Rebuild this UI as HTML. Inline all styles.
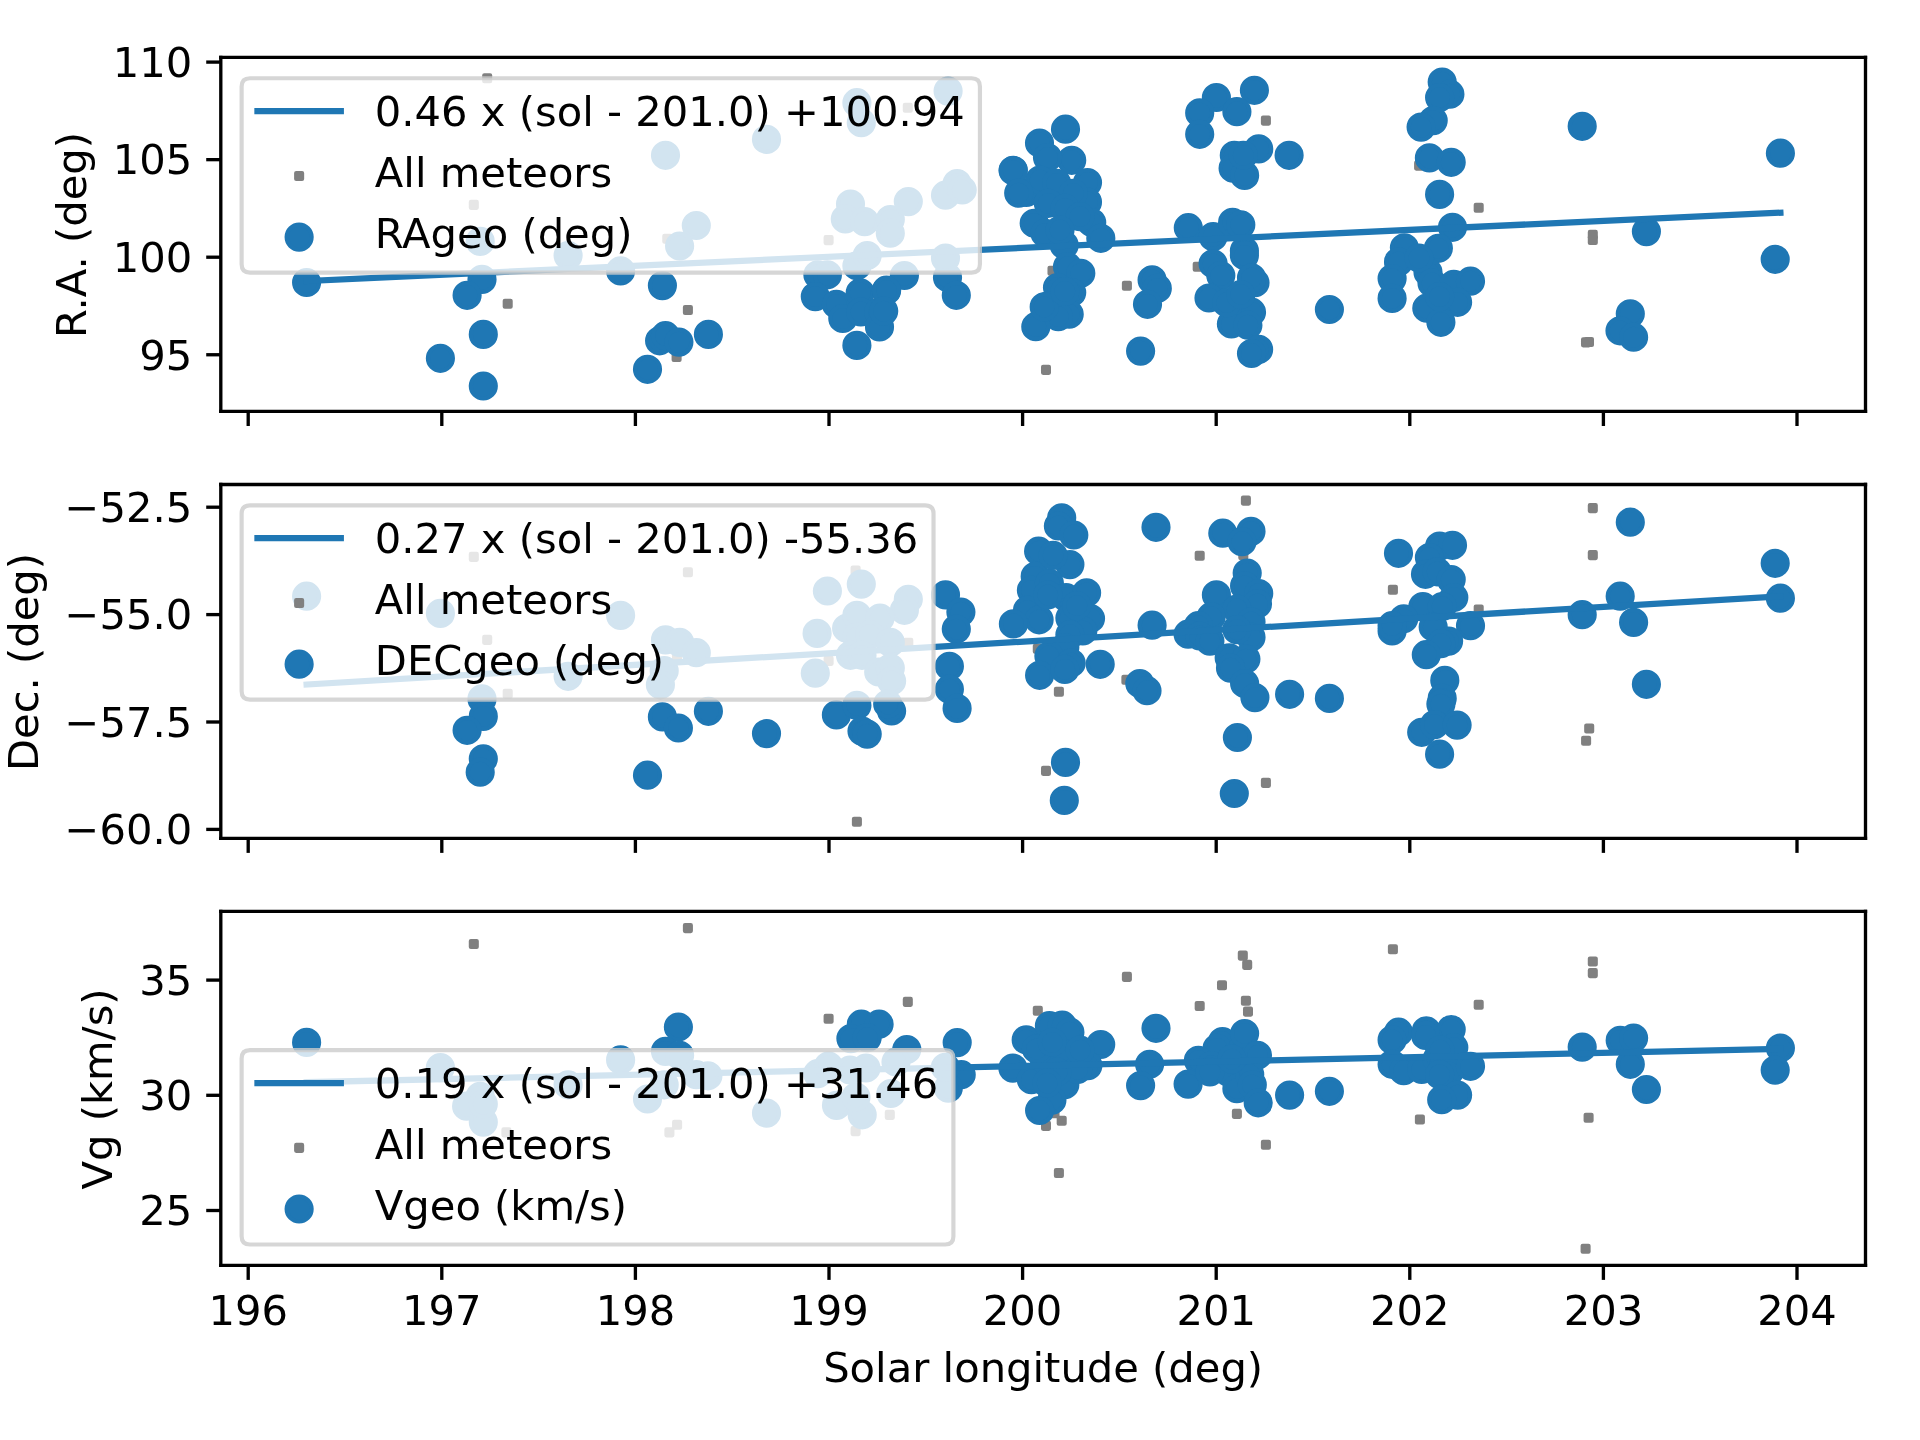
<!DOCTYPE html>
<html><head><meta charset="utf-8"><title>Meteor shower trends</title>
<style>html,body{margin:0;padding:0;background:#fff;width:1920px;height:1440px;overflow:hidden}svg{display:block;will-change:transform}
text{font-family:"DejaVu Sans","Liberation Sans",sans-serif}</style></head>
<body>
<svg width="1920" height="1440" viewBox="0 0 460.8 345.6" version="1.1">
 
 <defs>
  <style type="text/css">*{stroke-linejoin: round; stroke-linecap: butt}</style>
 </defs>
 <g id="figure_1">
  <g id="patch_1">
   <path d="M 0 345.6 
L 460.8 345.6 
L 460.8 0 
L 0 0 
z
" style="fill: #ffffff"/>
  </g>
  <g id="axes_1">
   <g id="patch_2">
    <path d="M 52.992 98.736 
L 447.72 98.736 
L 447.72 13.776 
L 52.992 13.776 
z
" style="fill: #ffffff"/>
   </g>
   <g id="PathCollection_1">
    <defs>
     <path id="m75fa3bee47" d="M -0.707107 0.707107 
L 0.707107 0.707107 
L 0.707107 -0.707107 
L -0.707107 -0.707107 
z
" style="stroke: #808080"/>
    </defs>
    <g clip-path="url(#pdd602e3e44)">
     <use href="#m75fa3bee47" x="116.928" y="18.792" style="fill: #808080; stroke: #808080"/>
     <use href="#m75fa3bee47" x="113.712" y="49.176" style="fill: #808080; stroke: #808080"/>
     <use href="#m75fa3bee47" x="121.848" y="72.912" style="fill: #808080; stroke: #808080"/>
     <use href="#m75fa3bee47" x="165.096" y="74.4" style="fill: #808080; stroke: #808080"/>
     <use href="#m75fa3bee47" x="162.384" y="85.68" style="fill: #808080; stroke: #808080"/>
     <use href="#m75fa3bee47" x="198.864" y="57.624" style="fill: #808080; stroke: #808080"/>
     <use href="#m75fa3bee47" x="217.872" y="25.872" style="fill: #808080; stroke: #808080"/>
     <use href="#m75fa3bee47" x="160.152" y="57.312" style="fill: #808080; stroke: #808080"/>
     <use href="#m75fa3bee47" x="252.6" y="64.992" style="fill: #808080; stroke: #808080"/>
     <use href="#m75fa3bee47" x="270.456" y="68.592" style="fill: #808080; stroke: #808080"/>
     <use href="#m75fa3bee47" x="251.04" y="88.776" style="fill: #808080; stroke: #808080"/>
     <use href="#m75fa3bee47" x="303.816" y="28.944" style="fill: #808080; stroke: #808080"/>
     <use href="#m75fa3bee47" x="287.448" y="64.008" style="fill: #808080; stroke: #808080"/>
     <use href="#m75fa3bee47" x="340.584" y="39.744" style="fill: #808080; stroke: #808080"/>
     <use href="#m75fa3bee47" x="354.888" y="49.848" style="fill: #808080; stroke: #808080"/>
     <use href="#m75fa3bee47" x="382.272" y="56.376" style="fill: #808080; stroke: #808080"/>
     <use href="#m75fa3bee47" x="382.272" y="57.6" style="fill: #808080; stroke: #808080"/>
     <use href="#m75fa3bee47" x="380.64" y="82.176" style="fill: #808080; stroke: #808080"/>
     <use href="#m75fa3bee47" x="381.36" y="82.08" style="fill: #808080; stroke: #808080"/>
    </g>
   </g>
   <g id="PathCollection_2">
    <defs>
     <path id="mf14c53ed57" d="M 0 3 
C 0.795609 3 1.55874 2.683901 2.12132 2.12132 
C 2.683901 1.55874 3 0.795609 3 0 
C 3 -0.795609 2.683901 -1.55874 2.12132 -2.12132 
C 1.55874 -2.683901 0.795609 -3 0 -3 
C -0.795609 -3 -1.55874 -2.683901 -2.12132 -2.12132 
C -2.683901 -1.55874 -3 -0.795609 -3 0 
C -3 0.795609 -2.683901 1.55874 -2.12132 2.12132 
C -1.55874 2.683901 -0.795609 3 0 3 
z
" style="stroke: #1f77b4"/>
    </defs>
    <g clip-path="url(#pdd602e3e44)">
     <use href="#mf14c53ed57" x="73.584" y="67.8" style="fill: #1f77b4; stroke: #1f77b4"/>
     <use href="#mf14c53ed57" x="115.68" y="67.056" style="fill: #1f77b4; stroke: #1f77b4"/>
     <use href="#mf14c53ed57" x="112.104" y="70.872" style="fill: #1f77b4; stroke: #1f77b4"/>
     <use href="#mf14c53ed57" x="115.992" y="80.256" style="fill: #1f77b4; stroke: #1f77b4"/>
     <use href="#mf14c53ed57" x="105.696" y="85.992" style="fill: #1f77b4; stroke: #1f77b4"/>
     <use href="#mf14c53ed57" x="115.992" y="92.64" style="fill: #1f77b4; stroke: #1f77b4"/>
     <use href="#mf14c53ed57" x="115.248" y="57.936" style="fill: #1f77b4; stroke: #1f77b4"/>
     <use href="#mf14c53ed57" x="136.344" y="61.32" style="fill: #1f77b4; stroke: #1f77b4"/>
     <use href="#mf14c53ed57" x="148.944" y="65.016" style="fill: #1f77b4; stroke: #1f77b4"/>
     <use href="#mf14c53ed57" x="158.976" y="68.544" style="fill: #1f77b4; stroke: #1f77b4"/>
     <use href="#mf14c53ed57" x="158.304" y="81.792" style="fill: #1f77b4; stroke: #1f77b4"/>
     <use href="#mf14c53ed57" x="159.72" y="80.568" style="fill: #1f77b4; stroke: #1f77b4"/>
     <use href="#mf14c53ed57" x="162.936" y="82.104" style="fill: #1f77b4; stroke: #1f77b4"/>
     <use href="#mf14c53ed57" x="170.016" y="80.256" style="fill: #1f77b4; stroke: #1f77b4"/>
     <use href="#mf14c53ed57" x="155.4" y="88.632" style="fill: #1f77b4; stroke: #1f77b4"/>
     <use href="#mf14c53ed57" x="196.296" y="65.952" style="fill: #1f77b4; stroke: #1f77b4"/>
     <use href="#mf14c53ed57" x="198.576" y="65.952" style="fill: #1f77b4; stroke: #1f77b4"/>
     <use href="#mf14c53ed57" x="195.672" y="71.184" style="fill: #1f77b4; stroke: #1f77b4"/>
     <use href="#mf14c53ed57" x="200.736" y="73.032" style="fill: #1f77b4; stroke: #1f77b4"/>
     <use href="#mf14c53ed57" x="202.272" y="76.44" style="fill: #1f77b4; stroke: #1f77b4"/>
     <use href="#mf14c53ed57" x="206.448" y="70.272" style="fill: #1f77b4; stroke: #1f77b4"/>
     <use href="#mf14c53ed57" x="206.592" y="74.88" style="fill: #1f77b4; stroke: #1f77b4"/>
     <use href="#mf14c53ed57" x="212.736" y="69.648" style="fill: #1f77b4; stroke: #1f77b4"/>
     <use href="#mf14c53ed57" x="210.888" y="74.88" style="fill: #1f77b4; stroke: #1f77b4"/>
     <use href="#mf14c53ed57" x="211.08" y="78.456" style="fill: #1f77b4; stroke: #1f77b4"/>
     <use href="#mf14c53ed57" x="205.656" y="82.896" style="fill: #1f77b4; stroke: #1f77b4"/>
     <use href="#mf14c53ed57" x="217.056" y="66.12" style="fill: #1f77b4; stroke: #1f77b4"/>
     <use href="#mf14c53ed57" x="205.656" y="63.792" style="fill: #1f77b4; stroke: #1f77b4"/>
     <use href="#mf14c53ed57" x="227.4" y="66.576" style="fill: #1f77b4; stroke: #1f77b4"/>
     <use href="#mf14c53ed57" x="229.512" y="70.872" style="fill: #1f77b4; stroke: #1f77b4"/>
     <use href="#mf14c53ed57" x="212.784" y="69.72" style="fill: #1f77b4; stroke: #1f77b4"/>
     <use href="#mf14c53ed57" x="212.088" y="74.664" style="fill: #1f77b4; stroke: #1f77b4"/>
     <use href="#mf14c53ed57" x="159.72" y="37.272" style="fill: #1f77b4; stroke: #1f77b4"/>
     <use href="#mf14c53ed57" x="183.96" y="33.456" style="fill: #1f77b4; stroke: #1f77b4"/>
     <use href="#mf14c53ed57" x="167.112" y="54.12" style="fill: #1f77b4; stroke: #1f77b4"/>
     <use href="#mf14c53ed57" x="163.104" y="59.04" style="fill: #1f77b4; stroke: #1f77b4"/>
     <use href="#mf14c53ed57" x="205.656" y="24.648" style="fill: #1f77b4; stroke: #1f77b4"/>
     <use href="#mf14c53ed57" x="206.712" y="29.448" style="fill: #1f77b4; stroke: #1f77b4"/>
     <use href="#mf14c53ed57" x="227.544" y="21.864" style="fill: #1f77b4; stroke: #1f77b4"/>
     <use href="#mf14c53ed57" x="204.12" y="48.984" style="fill: #1f77b4; stroke: #1f77b4"/>
     <use href="#mf14c53ed57" x="202.872" y="52.56" style="fill: #1f77b4; stroke: #1f77b4"/>
     <use href="#mf14c53ed57" x="207.504" y="53.184" style="fill: #1f77b4; stroke: #1f77b4"/>
     <use href="#mf14c53ed57" x="213.672" y="52.704" style="fill: #1f77b4; stroke: #1f77b4"/>
     <use href="#mf14c53ed57" x="213.672" y="55.968" style="fill: #1f77b4; stroke: #1f77b4"/>
     <use href="#mf14c53ed57" x="217.992" y="48.384" style="fill: #1f77b4; stroke: #1f77b4"/>
     <use href="#mf14c53ed57" x="226.92" y="46.848" style="fill: #1f77b4; stroke: #1f77b4"/>
     <use href="#mf14c53ed57" x="229.704" y="44.064" style="fill: #1f77b4; stroke: #1f77b4"/>
     <use href="#mf14c53ed57" x="230.928" y="45.6" style="fill: #1f77b4; stroke: #1f77b4"/>
     <use href="#mf14c53ed57" x="208.128" y="61.32" style="fill: #1f77b4; stroke: #1f77b4"/>
     <use href="#mf14c53ed57" x="226.92" y="61.944" style="fill: #1f77b4; stroke: #1f77b4"/>
     <use href="#mf14c53ed57" x="255.72" y="31.008" style="fill: #1f77b4; stroke: #1f77b4"/>
     <use href="#mf14c53ed57" x="249.48" y="34.32" style="fill: #1f77b4; stroke: #1f77b4"/>
     <use href="#mf14c53ed57" x="243.192" y="40.872" style="fill: #1f77b4; stroke: #1f77b4"/>
     <use href="#mf14c53ed57" x="257.208" y="38.472" style="fill: #1f77b4; stroke: #1f77b4"/>
     <use href="#mf14c53ed57" x="251.4" y="37.8" style="fill: #1f77b4; stroke: #1f77b4"/>
     <use href="#mf14c53ed57" x="261" y="43.8" style="fill: #1f77b4; stroke: #1f77b4"/>
     <use href="#mf14c53ed57" x="246.312" y="46.2" style="fill: #1f77b4; stroke: #1f77b4"/>
     <use href="#mf14c53ed57" x="261" y="48.48" style="fill: #1f77b4; stroke: #1f77b4"/>
     <use href="#mf14c53ed57" x="248.208" y="53.592" style="fill: #1f77b4; stroke: #1f77b4"/>
     <use href="#mf14c53ed57" x="262.008" y="53.4" style="fill: #1f77b4; stroke: #1f77b4"/>
     <use href="#mf14c53ed57" x="264.192" y="57.192" style="fill: #1f77b4; stroke: #1f77b4"/>
     <use href="#mf14c53ed57" x="250.8" y="55.992" style="fill: #1f77b4; stroke: #1f77b4"/>
     <use href="#mf14c53ed57" x="255.408" y="58.8" style="fill: #1f77b4; stroke: #1f77b4"/>
     <use href="#mf14c53ed57" x="256.2" y="64.008" style="fill: #1f77b4; stroke: #1f77b4"/>
     <use href="#mf14c53ed57" x="259.392" y="65.592" style="fill: #1f77b4; stroke: #1f77b4"/>
     <use href="#mf14c53ed57" x="253.8" y="69" style="fill: #1f77b4; stroke: #1f77b4"/>
     <use href="#mf14c53ed57" x="257.208" y="70.2" style="fill: #1f77b4; stroke: #1f77b4"/>
     <use href="#mf14c53ed57" x="251.592" y="73.392" style="fill: #1f77b4; stroke: #1f77b4"/>
     <use href="#mf14c53ed57" x="256.608" y="75.408" style="fill: #1f77b4; stroke: #1f77b4"/>
     <use href="#mf14c53ed57" x="253.992" y="76.008" style="fill: #1f77b4; stroke: #1f77b4"/>
     <use href="#mf14c53ed57" x="248.592" y="78.408" style="fill: #1f77b4; stroke: #1f77b4"/>
     <use href="#mf14c53ed57" x="249.6" y="43.2" style="fill: #1f77b4; stroke: #1f77b4"/>
     <use href="#mf14c53ed57" x="253.608" y="43.992" style="fill: #1f77b4; stroke: #1f77b4"/>
     <use href="#mf14c53ed57" x="257.592" y="46.392" style="fill: #1f77b4; stroke: #1f77b4"/>
     <use href="#mf14c53ed57" x="251.592" y="48.792" style="fill: #1f77b4; stroke: #1f77b4"/>
     <use href="#mf14c53ed57" x="255.6" y="49.992" style="fill: #1f77b4; stroke: #1f77b4"/>
     <use href="#mf14c53ed57" x="259.2" y="52.008" style="fill: #1f77b4; stroke: #1f77b4"/>
     <use href="#mf14c53ed57" x="254.4" y="55.2" style="fill: #1f77b4; stroke: #1f77b4"/>
     <use href="#mf14c53ed57" x="243.144" y="40.944" style="fill: #1f77b4; stroke: #1f77b4"/>
     <use href="#mf14c53ed57" x="244.488" y="46.344" style="fill: #1f77b4; stroke: #1f77b4"/>
     <use href="#mf14c53ed57" x="250.608" y="73.656" style="fill: #1f77b4; stroke: #1f77b4"/>
     <use href="#mf14c53ed57" x="255.552" y="69.96" style="fill: #1f77b4; stroke: #1f77b4"/>
     <use href="#mf14c53ed57" x="276.504" y="67.176" style="fill: #1f77b4; stroke: #1f77b4"/>
     <use href="#mf14c53ed57" x="277.752" y="69.216" style="fill: #1f77b4; stroke: #1f77b4"/>
     <use href="#mf14c53ed57" x="275.4" y="73.032" style="fill: #1f77b4; stroke: #1f77b4"/>
     <use href="#mf14c53ed57" x="273.744" y="84.264" style="fill: #1f77b4; stroke: #1f77b4"/>
     <use href="#mf14c53ed57" x="291.936" y="23.4" style="fill: #1f77b4; stroke: #1f77b4"/>
     <use href="#mf14c53ed57" x="287.928" y="27.096" style="fill: #1f77b4; stroke: #1f77b4"/>
     <use href="#mf14c53ed57" x="301.056" y="21.672" style="fill: #1f77b4; stroke: #1f77b4"/>
     <use href="#mf14c53ed57" x="296.856" y="26.808" style="fill: #1f77b4; stroke: #1f77b4"/>
     <use href="#mf14c53ed57" x="287.928" y="32.232" style="fill: #1f77b4; stroke: #1f77b4"/>
     <use href="#mf14c53ed57" x="296.232" y="37.272" style="fill: #1f77b4; stroke: #1f77b4"/>
     <use href="#mf14c53ed57" x="302.088" y="35.736" style="fill: #1f77b4; stroke: #1f77b4"/>
     <use href="#mf14c53ed57" x="309.384" y="37.272" style="fill: #1f77b4; stroke: #1f77b4"/>
     <use href="#mf14c53ed57" x="295.944" y="40.368" style="fill: #1f77b4; stroke: #1f77b4"/>
     <use href="#mf14c53ed57" x="298.704" y="42.096" style="fill: #1f77b4; stroke: #1f77b4"/>
     <use href="#mf14c53ed57" x="298.392" y="37.272" style="fill: #1f77b4; stroke: #1f77b4"/>
     <use href="#mf14c53ed57" x="285.192" y="54.648" style="fill: #1f77b4; stroke: #1f77b4"/>
     <use href="#mf14c53ed57" x="291.144" y="56.784" style="fill: #1f77b4; stroke: #1f77b4"/>
     <use href="#mf14c53ed57" x="295.824" y="53.376" style="fill: #1f77b4; stroke: #1f77b4"/>
     <use href="#mf14c53ed57" x="297.792" y="53.952" style="fill: #1f77b4; stroke: #1f77b4"/>
     <use href="#mf14c53ed57" x="298.656" y="60.192" style="fill: #1f77b4; stroke: #1f77b4"/>
     <use href="#mf14c53ed57" x="298.656" y="61.32" style="fill: #1f77b4; stroke: #1f77b4"/>
     <use href="#mf14c53ed57" x="291.144" y="63.312" style="fill: #1f77b4; stroke: #1f77b4"/>
     <use href="#mf14c53ed57" x="292.992" y="66.144" style="fill: #1f77b4; stroke: #1f77b4"/>
     <use href="#mf14c53ed57" x="301.2" y="67.848" style="fill: #1f77b4; stroke: #1f77b4"/>
     <use href="#mf14c53ed57" x="300.36" y="66.696" style="fill: #1f77b4; stroke: #1f77b4"/>
     <use href="#mf14c53ed57" x="290.16" y="71.52" style="fill: #1f77b4; stroke: #1f77b4"/>
     <use href="#mf14c53ed57" x="295.536" y="77.76" style="fill: #1f77b4; stroke: #1f77b4"/>
     <use href="#mf14c53ed57" x="300.36" y="74.928" style="fill: #1f77b4; stroke: #1f77b4"/>
     <use href="#mf14c53ed57" x="299.496" y="78.048" style="fill: #1f77b4; stroke: #1f77b4"/>
     <use href="#mf14c53ed57" x="302.064" y="83.856" style="fill: #1f77b4; stroke: #1f77b4"/>
     <use href="#mf14c53ed57" x="300.36" y="84.84" style="fill: #1f77b4; stroke: #1f77b4"/>
     <use href="#mf14c53ed57" x="294.408" y="72.648" style="fill: #1f77b4; stroke: #1f77b4"/>
     <use href="#mf14c53ed57" x="297.792" y="70.68" style="fill: #1f77b4; stroke: #1f77b4"/>
     <use href="#mf14c53ed57" x="319.056" y="74.28" style="fill: #1f77b4; stroke: #1f77b4"/>
     <use href="#mf14c53ed57" x="346.128" y="19.704" style="fill: #1f77b4; stroke: #1f77b4"/>
     <use href="#mf14c53ed57" x="347.976" y="22.608" style="fill: #1f77b4; stroke: #1f77b4"/>
     <use href="#mf14c53ed57" x="345.504" y="23.4" style="fill: #1f77b4; stroke: #1f77b4"/>
     <use href="#mf14c53ed57" x="343.968" y="28.944" style="fill: #1f77b4; stroke: #1f77b4"/>
     <use href="#mf14c53ed57" x="341.064" y="30.504" style="fill: #1f77b4; stroke: #1f77b4"/>
     <use href="#mf14c53ed57" x="343.056" y="37.896" style="fill: #1f77b4; stroke: #1f77b4"/>
     <use href="#mf14c53ed57" x="348.288" y="38.952" style="fill: #1f77b4; stroke: #1f77b4"/>
     <use href="#mf14c53ed57" x="345.504" y="46.656" style="fill: #1f77b4; stroke: #1f77b4"/>
     <use href="#mf14c53ed57" x="348.6" y="54.552" style="fill: #1f77b4; stroke: #1f77b4"/>
     <use href="#mf14c53ed57" x="337.056" y="59.472" style="fill: #1f77b4; stroke: #1f77b4"/>
     <use href="#mf14c53ed57" x="345.216" y="59.592" style="fill: #1f77b4; stroke: #1f77b4"/>
     <use href="#mf14c53ed57" x="335.64" y="62.856" style="fill: #1f77b4; stroke: #1f77b4"/>
     <use href="#mf14c53ed57" x="334.104" y="66.864" style="fill: #1f77b4; stroke: #1f77b4"/>
     <use href="#mf14c53ed57" x="342.72" y="65.328" style="fill: #1f77b4; stroke: #1f77b4"/>
     <use href="#mf14c53ed57" x="340.56" y="61.92" style="fill: #1f77b4; stroke: #1f77b4"/>
     <use href="#mf14c53ed57" x="343.68" y="67.92" style="fill: #1f77b4; stroke: #1f77b4"/>
     <use href="#mf14c53ed57" x="334.104" y="71.616" style="fill: #1f77b4; stroke: #1f77b4"/>
     <use href="#mf14c53ed57" x="348.912" y="68.232" style="fill: #1f77b4; stroke: #1f77b4"/>
     <use href="#mf14c53ed57" x="352.92" y="67.488" style="fill: #1f77b4; stroke: #1f77b4"/>
     <use href="#mf14c53ed57" x="342.432" y="73.968" style="fill: #1f77b4; stroke: #1f77b4"/>
     <use href="#mf14c53ed57" x="349.824" y="72.552" style="fill: #1f77b4; stroke: #1f77b4"/>
     <use href="#mf14c53ed57" x="345.816" y="77.352" style="fill: #1f77b4; stroke: #1f77b4"/>
     <use href="#mf14c53ed57" x="345.504" y="71.184" style="fill: #1f77b4; stroke: #1f77b4"/>
     <use href="#mf14c53ed57" x="379.728" y="30.312" style="fill: #1f77b4; stroke: #1f77b4"/>
     <use href="#mf14c53ed57" x="395.136" y="55.584" style="fill: #1f77b4; stroke: #1f77b4"/>
     <use href="#mf14c53ed57" x="391.272" y="75.312" style="fill: #1f77b4; stroke: #1f77b4"/>
     <use href="#mf14c53ed57" x="388.8" y="79.392" style="fill: #1f77b4; stroke: #1f77b4"/>
     <use href="#mf14c53ed57" x="392.064" y="80.928" style="fill: #1f77b4; stroke: #1f77b4"/>
     <use href="#mf14c53ed57" x="427.296" y="36.768" style="fill: #1f77b4; stroke: #1f77b4"/>
     <use href="#mf14c53ed57" x="426.048" y="62.232" style="fill: #1f77b4; stroke: #1f77b4"/>
    </g>
   </g>
   <g id="matplotlib.axis_1">
    <g id="xtick_1">
     <g id="line2d_1">
      <defs>
       <path id="m1504cfccaf" d="M 0 0 
L 0 3.5 
" style="stroke: #000000; stroke-width: 0.8"/>
      </defs>
      <g>
       <use href="#m1504cfccaf" x="59.568" y="98.736" style="stroke: #000000; stroke-width: 0.8"/>
      </g>
     </g>
    </g>
    <g id="xtick_2">
     <g id="line2d_2">
      <g>
       <use href="#m1504cfccaf" x="106.032" y="98.736" style="stroke: #000000; stroke-width: 0.8"/>
      </g>
     </g>
    </g>
    <g id="xtick_3">
     <g id="line2d_3">
      <g>
       <use href="#m1504cfccaf" x="152.496" y="98.736" style="stroke: #000000; stroke-width: 0.8"/>
      </g>
     </g>
    </g>
    <g id="xtick_4">
     <g id="line2d_4">
      <g>
       <use href="#m1504cfccaf" x="198.96" y="98.736" style="stroke: #000000; stroke-width: 0.8"/>
      </g>
     </g>
    </g>
    <g id="xtick_5">
     <g id="line2d_5">
      <g>
       <use href="#m1504cfccaf" x="245.424" y="98.736" style="stroke: #000000; stroke-width: 0.8"/>
      </g>
     </g>
    </g>
    <g id="xtick_6">
     <g id="line2d_6">
      <g>
       <use href="#m1504cfccaf" x="291.888" y="98.736" style="stroke: #000000; stroke-width: 0.8"/>
      </g>
     </g>
    </g>
    <g id="xtick_7">
     <g id="line2d_7">
      <g>
       <use href="#m1504cfccaf" x="338.352" y="98.736" style="stroke: #000000; stroke-width: 0.8"/>
      </g>
     </g>
    </g>
    <g id="xtick_8">
     <g id="line2d_8">
      <g>
       <use href="#m1504cfccaf" x="384.816" y="98.736" style="stroke: #000000; stroke-width: 0.8"/>
      </g>
     </g>
    </g>
    <g id="xtick_9">
     <g id="line2d_9">
      <g>
       <use href="#m1504cfccaf" x="431.28" y="98.736" style="stroke: #000000; stroke-width: 0.8"/>
      </g>
     </g>
    </g>
   </g>
   <g id="matplotlib.axis_2">
    <g id="ytick_1">
     <g id="line2d_10">
      <defs>
       <path id="m5d545ce8f8" d="M 0 0 
L -3.5 0 
" style="stroke: #000000; stroke-width: 0.8"/>
      </defs>
      <g>
       <use href="#m5d545ce8f8" x="52.992" y="85.14" style="stroke: #000000; stroke-width: 0.8"/>
      </g>
     </g>
     <g id="text_1">
      <text style="font-size: 10px; font-family: 'DejaVu Sans', 'Liberation Sans', sans-serif; text-anchor: end" x="46.1360" y="88.6992" transform="rotate(-0 46.1360 88.6992)">95</text>
     </g>
    </g>
    <g id="ytick_2">
     <g id="line2d_11">
      <g>
       <use href="#m5d545ce8f8" x="52.992" y="61.728" style="stroke: #000000; stroke-width: 0.8"/>
      </g>
     </g>
     <g id="text_2">
      <text style="font-size: 10px; font-family: 'DejaVu Sans', 'Liberation Sans', sans-serif; text-anchor: end" x="46.1360" y="65.2872" transform="rotate(-0 46.1360 65.2872)">100</text>
     </g>
    </g>
    <g id="ytick_3">
     <g id="line2d_12">
      <g>
       <use href="#m5d545ce8f8" x="52.992" y="38.316" style="stroke: #000000; stroke-width: 0.8"/>
      </g>
     </g>
     <g id="text_3">
      <text style="font-size: 10px; font-family: 'DejaVu Sans', 'Liberation Sans', sans-serif; text-anchor: end" x="46.1360" y="41.8752" transform="rotate(-0 46.1360 41.8752)">105</text>
     </g>
    </g>
    <g id="ytick_4">
     <g id="line2d_13">
      <g>
       <use href="#m5d545ce8f8" x="52.992" y="14.904" style="stroke: #000000; stroke-width: 0.8"/>
      </g>
     </g>
     <g id="text_4">
      <text style="font-size: 10px; font-family: 'DejaVu Sans', 'Liberation Sans', sans-serif; text-anchor: end" x="46.1360" y="18.4632" transform="rotate(-0 46.1360 18.4632)">110</text>
     </g>
    </g>
    <g id="text_5">
     <text style="font-size: 10px; font-family: 'DejaVu Sans', 'Liberation Sans', sans-serif; text-anchor: middle" x="20.5848" y="56.4000" transform="rotate(-90 20.5848 56.4000)">R.A. (deg)</text>
    </g>
   </g>
   <g id="line2d_14">
    <path d="M 73.584 67.446333 
L 427.296 51.049516 
" clip-path="url(#pdd602e3e44)" style="fill: none; stroke: #1f77b4; stroke-width: 1.5; stroke-linecap: square"/>
   </g>
   <g id="patch_3">
    <path d="M 52.992 98.736 
L 52.992 13.776 
" style="fill: none; stroke: #000000; stroke-width: 0.8; stroke-linejoin: miter; stroke-linecap: square"/>
   </g>
   <g id="patch_4">
    <path d="M 447.72 98.736 
L 447.72 13.776 
" style="fill: none; stroke: #000000; stroke-width: 0.8; stroke-linejoin: miter; stroke-linecap: square"/>
   </g>
   <g id="patch_5">
    <path d="M 52.992 98.736 
L 447.72 98.736 
" style="fill: none; stroke: #000000; stroke-width: 0.8; stroke-linejoin: miter; stroke-linecap: square"/>
   </g>
   <g id="patch_6">
    <path d="M 52.992 13.776 
L 447.72 13.776 
" style="fill: none; stroke: #000000; stroke-width: 0.8; stroke-linejoin: miter; stroke-linecap: square"/>
   </g>
   <g id="legend_1">
    <g id="patch_7">
     <path d="M 59.992 65.410375 
L 233.182625 65.410375 
Q 235.182625 65.410375 235.182625 63.410375 
L 235.182625 20.776 
Q 235.182625 18.776 233.182625 18.776 
L 59.992 18.776 
Q 57.992 18.776 57.992 20.776 
L 57.992 63.410375 
Q 57.992 65.410375 59.992 65.410375 
z
" style="fill: #ffffff; fill-opacity: 0.8; stroke: #cccccc; stroke-opacity: 0.8; stroke-linejoin: miter"/>
    </g>
    <g id="line2d_15">
     <path d="M 61.792 26.674438 
L 71.792 26.674438 
L 81.792 26.674438 
" style="fill: none; stroke: #1f77b4; stroke-width: 1.5; stroke-linecap: square"/>
    </g>
    <g id="text_6">
     <text style="font-size: 10px; font-family: 'DejaVu Sans', 'Liberation Sans', sans-serif; text-anchor: start" x="89.9600" y="30.1744" transform="rotate(-0 89.9600 30.1744)">0.46 x (sol - 201.0) +100.94</text>
    </g>
    <g id="PathCollection_3">
     <g>
      <use href="#m75fa3bee47" x="71.792" y="42.227563" style="fill: #808080; stroke: #808080"/>
     </g>
    </g>
    <g id="text_7">
     <text style="font-size: 10px; font-family: 'DejaVu Sans', 'Liberation Sans', sans-serif; text-anchor: start" x="89.9600" y="44.8526" transform="rotate(-0 89.9600 44.8526)">All meteors</text>
    </g>
    <g id="PathCollection_4">
     <g>
      <use href="#mf14c53ed57" x="71.792" y="56.905687" style="fill: #1f77b4; stroke: #1f77b4"/>
     </g>
    </g>
    <g id="text_8">
     <text style="font-size: 10px; font-family: 'DejaVu Sans', 'Liberation Sans', sans-serif; text-anchor: start" x="89.9600" y="59.5307" transform="rotate(-0 89.9600 59.5307)">RAgeo (deg)</text>
    </g>
   </g>
  </g>
  <g id="axes_2">
   <g id="patch_8">
    <path d="M 52.992 201.192 
L 447.72 201.192 
L 447.72 116.28 
L 52.992 116.28 
z
" style="fill: #ffffff"/>
   </g>
   <g id="PathCollection_5">
    <g clip-path="url(#p314854c479)">
     <use href="#m75fa3bee47" x="113.712" y="133.656" style="fill: #808080; stroke: #808080"/>
     <use href="#m75fa3bee47" x="116.928" y="153.576" style="fill: #808080; stroke: #808080"/>
     <use href="#m75fa3bee47" x="121.848" y="166.512" style="fill: #808080; stroke: #808080"/>
     <use href="#m75fa3bee47" x="165.096" y="137.352" style="fill: #808080; stroke: #808080"/>
     <use href="#m75fa3bee47" x="205.344" y="136.92" style="fill: #808080; stroke: #808080"/>
     <use href="#m75fa3bee47" x="198.864" y="158.616" style="fill: #808080; stroke: #808080"/>
     <use href="#m75fa3bee47" x="217.992" y="154.296" style="fill: #808080; stroke: #808080"/>
     <use href="#m75fa3bee47" x="205.656" y="197.208" style="fill: #808080; stroke: #808080"/>
     <use href="#m75fa3bee47" x="299.016" y="120.144" style="fill: #808080; stroke: #808080"/>
     <use href="#m75fa3bee47" x="287.928" y="133.392" style="fill: #808080; stroke: #808080"/>
     <use href="#m75fa3bee47" x="298.392" y="133.224" style="fill: #808080; stroke: #808080"/>
     <use href="#m75fa3bee47" x="249.072" y="155.712" style="fill: #808080; stroke: #808080"/>
     <use href="#m75fa3bee47" x="254.136" y="166.008" style="fill: #808080; stroke: #808080"/>
     <use href="#m75fa3bee47" x="270.336" y="163.128" style="fill: #808080; stroke: #808080"/>
     <use href="#m75fa3bee47" x="251.04" y="185.016" style="fill: #808080; stroke: #808080"/>
     <use href="#m75fa3bee47" x="303.816" y="187.896" style="fill: #808080; stroke: #808080"/>
     <use href="#m75fa3bee47" x="334.296" y="141.552" style="fill: #808080; stroke: #808080"/>
     <use href="#m75fa3bee47" x="354.888" y="146.28" style="fill: #808080; stroke: #808080"/>
     <use href="#m75fa3bee47" x="382.272" y="121.944" style="fill: #808080; stroke: #808080"/>
     <use href="#m75fa3bee47" x="382.272" y="133.224" style="fill: #808080; stroke: #808080"/>
     <use href="#m75fa3bee47" x="381.408" y="174.84" style="fill: #808080; stroke: #808080"/>
     <use href="#m75fa3bee47" x="380.664" y="177.792" style="fill: #808080; stroke: #808080"/>
     <use href="#m75fa3bee47" x="162.48" y="157.92" style="fill: #808080; stroke: #808080"/>
    </g>
   </g>
   <g id="PathCollection_6">
    <g clip-path="url(#p314854c479)">
     <use href="#mf14c53ed57" x="73.584" y="143.088" style="fill: #1f77b4; stroke: #1f77b4"/>
     <use href="#mf14c53ed57" x="105.696" y="147.216" style="fill: #1f77b4; stroke: #1f77b4"/>
     <use href="#mf14c53ed57" x="136.344" y="162.312" style="fill: #1f77b4; stroke: #1f77b4"/>
     <use href="#mf14c53ed57" x="115.68" y="167.736" style="fill: #1f77b4; stroke: #1f77b4"/>
     <use href="#mf14c53ed57" x="115.992" y="171.936" style="fill: #1f77b4; stroke: #1f77b4"/>
     <use href="#mf14c53ed57" x="112.104" y="175.272" style="fill: #1f77b4; stroke: #1f77b4"/>
     <use href="#mf14c53ed57" x="115.992" y="182.112" style="fill: #1f77b4; stroke: #1f77b4"/>
     <use href="#mf14c53ed57" x="115.248" y="185.328" style="fill: #1f77b4; stroke: #1f77b4"/>
     <use href="#mf14c53ed57" x="148.944" y="147.696" style="fill: #1f77b4; stroke: #1f77b4"/>
     <use href="#mf14c53ed57" x="159.72" y="153.576" style="fill: #1f77b4; stroke: #1f77b4"/>
     <use href="#mf14c53ed57" x="163.104" y="154.176" style="fill: #1f77b4; stroke: #1f77b4"/>
     <use href="#mf14c53ed57" x="167.112" y="156.648" style="fill: #1f77b4; stroke: #1f77b4"/>
     <use href="#mf14c53ed57" x="159.408" y="160.968" style="fill: #1f77b4; stroke: #1f77b4"/>
     <use href="#mf14c53ed57" x="158.496" y="164.352" style="fill: #1f77b4; stroke: #1f77b4"/>
     <use href="#mf14c53ed57" x="198.576" y="141.84" style="fill: #1f77b4; stroke: #1f77b4"/>
     <use href="#mf14c53ed57" x="206.712" y="140.184" style="fill: #1f77b4; stroke: #1f77b4"/>
     <use href="#mf14c53ed57" x="217.992" y="143.832" style="fill: #1f77b4; stroke: #1f77b4"/>
     <use href="#mf14c53ed57" x="217.056" y="146.472" style="fill: #1f77b4; stroke: #1f77b4"/>
     <use href="#mf14c53ed57" x="196.104" y="152.016" style="fill: #1f77b4; stroke: #1f77b4"/>
     <use href="#mf14c53ed57" x="203.184" y="150.792" style="fill: #1f77b4; stroke: #1f77b4"/>
     <use href="#mf14c53ed57" x="205.656" y="147.696" style="fill: #1f77b4; stroke: #1f77b4"/>
     <use href="#mf14c53ed57" x="211.2" y="148.32" style="fill: #1f77b4; stroke: #1f77b4"/>
     <use href="#mf14c53ed57" x="205.656" y="152.952" style="fill: #1f77b4; stroke: #1f77b4"/>
     <use href="#mf14c53ed57" x="208.728" y="152.328" style="fill: #1f77b4; stroke: #1f77b4"/>
     <use href="#mf14c53ed57" x="213.672" y="154.176" style="fill: #1f77b4; stroke: #1f77b4"/>
     <use href="#mf14c53ed57" x="204.12" y="157.272" style="fill: #1f77b4; stroke: #1f77b4"/>
     <use href="#mf14c53ed57" x="206.88" y="157.272" style="fill: #1f77b4; stroke: #1f77b4"/>
     <use href="#mf14c53ed57" x="195.672" y="161.568" style="fill: #1f77b4; stroke: #1f77b4"/>
     <use href="#mf14c53ed57" x="210.888" y="161.28" style="fill: #1f77b4; stroke: #1f77b4"/>
     <use href="#mf14c53ed57" x="213.672" y="160.344" style="fill: #1f77b4; stroke: #1f77b4"/>
     <use href="#mf14c53ed57" x="213.984" y="163.44" style="fill: #1f77b4; stroke: #1f77b4"/>
     <use href="#mf14c53ed57" x="226.92" y="142.776" style="fill: #1f77b4; stroke: #1f77b4"/>
     <use href="#mf14c53ed57" x="230.616" y="146.904" style="fill: #1f77b4; stroke: #1f77b4"/>
     <use href="#mf14c53ed57" x="229.512" y="150.984" style="fill: #1f77b4; stroke: #1f77b4"/>
     <use href="#mf14c53ed57" x="227.856" y="159.912" style="fill: #1f77b4; stroke: #1f77b4"/>
     <use href="#mf14c53ed57" x="227.856" y="165.408" style="fill: #1f77b4; stroke: #1f77b4"/>
     <use href="#mf14c53ed57" x="229.704" y="170.016" style="fill: #1f77b4; stroke: #1f77b4"/>
     <use href="#mf14c53ed57" x="158.976" y="172.056" style="fill: #1f77b4; stroke: #1f77b4"/>
     <use href="#mf14c53ed57" x="162.816" y="174.72" style="fill: #1f77b4; stroke: #1f77b4"/>
     <use href="#mf14c53ed57" x="170.016" y="170.712" style="fill: #1f77b4; stroke: #1f77b4"/>
     <use href="#mf14c53ed57" x="183.96" y="176.064" style="fill: #1f77b4; stroke: #1f77b4"/>
     <use href="#mf14c53ed57" x="155.4" y="186.048" style="fill: #1f77b4; stroke: #1f77b4"/>
     <use href="#mf14c53ed57" x="200.736" y="171.576" style="fill: #1f77b4; stroke: #1f77b4"/>
     <use href="#mf14c53ed57" x="205.656" y="169.296" style="fill: #1f77b4; stroke: #1f77b4"/>
     <use href="#mf14c53ed57" x="206.88" y="175.464" style="fill: #1f77b4; stroke: #1f77b4"/>
     <use href="#mf14c53ed57" x="208.128" y="176.184" style="fill: #1f77b4; stroke: #1f77b4"/>
     <use href="#mf14c53ed57" x="213.984" y="170.64" style="fill: #1f77b4; stroke: #1f77b4"/>
     <use href="#mf14c53ed57" x="213.048" y="168.96" style="fill: #1f77b4; stroke: #1f77b4"/>
     <use href="#mf14c53ed57" x="254.808" y="124.272" style="fill: #1f77b4; stroke: #1f77b4"/>
     <use href="#mf14c53ed57" x="254.016" y="126.24" style="fill: #1f77b4; stroke: #1f77b4"/>
     <use href="#mf14c53ed57" x="257.712" y="128.4" style="fill: #1f77b4; stroke: #1f77b4"/>
     <use href="#mf14c53ed57" x="249.264" y="132.288" style="fill: #1f77b4; stroke: #1f77b4"/>
     <use href="#mf14c53ed57" x="256.776" y="135.504" style="fill: #1f77b4; stroke: #1f77b4"/>
     <use href="#mf14c53ed57" x="248.448" y="138.336" style="fill: #1f77b4; stroke: #1f77b4"/>
     <use href="#mf14c53ed57" x="247.536" y="141.672" style="fill: #1f77b4; stroke: #1f77b4"/>
     <use href="#mf14c53ed57" x="251.856" y="139.992" style="fill: #1f77b4; stroke: #1f77b4"/>
     <use href="#mf14c53ed57" x="255.864" y="143.4" style="fill: #1f77b4; stroke: #1f77b4"/>
     <use href="#mf14c53ed57" x="260.784" y="142.272" style="fill: #1f77b4; stroke: #1f77b4"/>
     <use href="#mf14c53ed57" x="246.6" y="146.472" style="fill: #1f77b4; stroke: #1f77b4"/>
     <use href="#mf14c53ed57" x="249.384" y="148.752" style="fill: #1f77b4; stroke: #1f77b4"/>
     <use href="#mf14c53ed57" x="243.216" y="149.736" style="fill: #1f77b4; stroke: #1f77b4"/>
     <use href="#mf14c53ed57" x="256.776" y="148.32" style="fill: #1f77b4; stroke: #1f77b4"/>
     <use href="#mf14c53ed57" x="261.72" y="148.44" style="fill: #1f77b4; stroke: #1f77b4"/>
     <use href="#mf14c53ed57" x="259.872" y="151.416" style="fill: #1f77b4; stroke: #1f77b4"/>
     <use href="#mf14c53ed57" x="256.776" y="152.328" style="fill: #1f77b4; stroke: #1f77b4"/>
     <use href="#mf14c53ed57" x="255.552" y="155.424" style="fill: #1f77b4; stroke: #1f77b4"/>
     <use href="#mf14c53ed57" x="251.736" y="157.44" style="fill: #1f77b4; stroke: #1f77b4"/>
     <use href="#mf14c53ed57" x="257.088" y="159.12" style="fill: #1f77b4; stroke: #1f77b4"/>
     <use href="#mf14c53ed57" x="249.504" y="162.072" style="fill: #1f77b4; stroke: #1f77b4"/>
     <use href="#mf14c53ed57" x="255.552" y="160.656" style="fill: #1f77b4; stroke: #1f77b4"/>
     <use href="#mf14c53ed57" x="264.048" y="159.432" style="fill: #1f77b4; stroke: #1f77b4"/>
     <use href="#mf14c53ed57" x="255.72" y="182.976" style="fill: #1f77b4; stroke: #1f77b4"/>
     <use href="#mf14c53ed57" x="255.432" y="192.096" style="fill: #1f77b4; stroke: #1f77b4"/>
     <use href="#mf14c53ed57" x="273.552" y="164.04" style="fill: #1f77b4; stroke: #1f77b4"/>
     <use href="#mf14c53ed57" x="275.28" y="165.768" style="fill: #1f77b4; stroke: #1f77b4"/>
     <use href="#mf14c53ed57" x="276.504" y="150.048" style="fill: #1f77b4; stroke: #1f77b4"/>
     <use href="#mf14c53ed57" x="277.44" y="126.552" style="fill: #1f77b4; stroke: #1f77b4"/>
     <use href="#mf14c53ed57" x="252.744" y="133.296" style="fill: #1f77b4; stroke: #1f77b4"/>
     <use href="#mf14c53ed57" x="251.472" y="142.8" style="fill: #1f77b4; stroke: #1f77b4"/>
     <use href="#mf14c53ed57" x="258.432" y="145.344" style="fill: #1f77b4; stroke: #1f77b4"/>
     <use href="#mf14c53ed57" x="293.472" y="127.968" style="fill: #1f77b4; stroke: #1f77b4"/>
     <use href="#mf14c53ed57" x="300.24" y="127.536" style="fill: #1f77b4; stroke: #1f77b4"/>
     <use href="#mf14c53ed57" x="298.08" y="130.008" style="fill: #1f77b4; stroke: #1f77b4"/>
     <use href="#mf14c53ed57" x="299.328" y="137.544" style="fill: #1f77b4; stroke: #1f77b4"/>
     <use href="#mf14c53ed57" x="291.936" y="142.776" style="fill: #1f77b4; stroke: #1f77b4"/>
     <use href="#mf14c53ed57" x="298.704" y="140.616" style="fill: #1f77b4; stroke: #1f77b4"/>
     <use href="#mf14c53ed57" x="302.088" y="142.464" style="fill: #1f77b4; stroke: #1f77b4"/>
     <use href="#mf14c53ed57" x="301.8" y="144.936" style="fill: #1f77b4; stroke: #1f77b4"/>
     <use href="#mf14c53ed57" x="296.856" y="146.16" style="fill: #1f77b4; stroke: #1f77b4"/>
     <use href="#mf14c53ed57" x="290.688" y="148.008" style="fill: #1f77b4; stroke: #1f77b4"/>
     <use href="#mf14c53ed57" x="287.616" y="150.168" style="fill: #1f77b4; stroke: #1f77b4"/>
     <use href="#mf14c53ed57" x="285.144" y="152.208" style="fill: #1f77b4; stroke: #1f77b4"/>
     <use href="#mf14c53ed57" x="287.928" y="152.64" style="fill: #1f77b4; stroke: #1f77b4"/>
     <use href="#mf14c53ed57" x="290.376" y="153.864" style="fill: #1f77b4; stroke: #1f77b4"/>
     <use href="#mf14c53ed57" x="300.24" y="149.256" style="fill: #1f77b4; stroke: #1f77b4"/>
     <use href="#mf14c53ed57" x="300.24" y="152.952" style="fill: #1f77b4; stroke: #1f77b4"/>
     <use href="#mf14c53ed57" x="296.856" y="151.104" style="fill: #1f77b4; stroke: #1f77b4"/>
     <use href="#mf14c53ed57" x="295.008" y="157.872" style="fill: #1f77b4; stroke: #1f77b4"/>
     <use href="#mf14c53ed57" x="299.016" y="158.184" style="fill: #1f77b4; stroke: #1f77b4"/>
     <use href="#mf14c53ed57" x="295.32" y="160.344" style="fill: #1f77b4; stroke: #1f77b4"/>
     <use href="#mf14c53ed57" x="298.704" y="164.04" style="fill: #1f77b4; stroke: #1f77b4"/>
     <use href="#mf14c53ed57" x="301.176" y="167.424" style="fill: #1f77b4; stroke: #1f77b4"/>
     <use href="#mf14c53ed57" x="309.504" y="166.632" style="fill: #1f77b4; stroke: #1f77b4"/>
     <use href="#mf14c53ed57" x="319.056" y="167.616" style="fill: #1f77b4; stroke: #1f77b4"/>
     <use href="#mf14c53ed57" x="296.976" y="177" style="fill: #1f77b4; stroke: #1f77b4"/>
     <use href="#mf14c53ed57" x="296.232" y="190.44" style="fill: #1f77b4; stroke: #1f77b4"/>
     <use href="#mf14c53ed57" x="335.64" y="132.792" style="fill: #1f77b4; stroke: #1f77b4"/>
     <use href="#mf14c53ed57" x="345.504" y="131.064" style="fill: #1f77b4; stroke: #1f77b4"/>
     <use href="#mf14c53ed57" x="348.6" y="130.872" style="fill: #1f77b4; stroke: #1f77b4"/>
     <use href="#mf14c53ed57" x="343.056" y="133.824" style="fill: #1f77b4; stroke: #1f77b4"/>
     <use href="#mf14c53ed57" x="342.12" y="137.832" style="fill: #1f77b4; stroke: #1f77b4"/>
     <use href="#mf14c53ed57" x="344.904" y="137.232" style="fill: #1f77b4; stroke: #1f77b4"/>
     <use href="#mf14c53ed57" x="348.288" y="139.08" style="fill: #1f77b4; stroke: #1f77b4"/>
     <use href="#mf14c53ed57" x="348.912" y="143.4" style="fill: #1f77b4; stroke: #1f77b4"/>
     <use href="#mf14c53ed57" x="341.496" y="145.56" style="fill: #1f77b4; stroke: #1f77b4"/>
     <use href="#mf14c53ed57" x="346.128" y="145.56" style="fill: #1f77b4; stroke: #1f77b4"/>
     <use href="#mf14c53ed57" x="336.888" y="148.512" style="fill: #1f77b4; stroke: #1f77b4"/>
     <use href="#mf14c53ed57" x="334.104" y="151.416" style="fill: #1f77b4; stroke: #1f77b4"/>
     <use href="#mf14c53ed57" x="334.104" y="150.168" style="fill: #1f77b4; stroke: #1f77b4"/>
     <use href="#mf14c53ed57" x="343.968" y="150.48" style="fill: #1f77b4; stroke: #1f77b4"/>
     <use href="#mf14c53ed57" x="352.92" y="150.168" style="fill: #1f77b4; stroke: #1f77b4"/>
     <use href="#mf14c53ed57" x="347.664" y="153.864" style="fill: #1f77b4; stroke: #1f77b4"/>
     <use href="#mf14c53ed57" x="345.816" y="154.488" style="fill: #1f77b4; stroke: #1f77b4"/>
     <use href="#mf14c53ed57" x="342.312" y="157.128" style="fill: #1f77b4; stroke: #1f77b4"/>
     <use href="#mf14c53ed57" x="346.752" y="163.296" style="fill: #1f77b4; stroke: #1f77b4"/>
     <use href="#mf14c53ed57" x="346.128" y="167.616" style="fill: #1f77b4; stroke: #1f77b4"/>
     <use href="#mf14c53ed57" x="345.816" y="168.984" style="fill: #1f77b4; stroke: #1f77b4"/>
     <use href="#mf14c53ed57" x="341.208" y="175.752" style="fill: #1f77b4; stroke: #1f77b4"/>
     <use href="#mf14c53ed57" x="344.28" y="173.904" style="fill: #1f77b4; stroke: #1f77b4"/>
     <use href="#mf14c53ed57" x="349.704" y="174.024" style="fill: #1f77b4; stroke: #1f77b4"/>
     <use href="#mf14c53ed57" x="345.504" y="181.008" style="fill: #1f77b4; stroke: #1f77b4"/>
     <use href="#mf14c53ed57" x="379.728" y="147.528" style="fill: #1f77b4; stroke: #1f77b4"/>
     <use href="#mf14c53ed57" x="388.848" y="143.088" style="fill: #1f77b4; stroke: #1f77b4"/>
     <use href="#mf14c53ed57" x="392.064" y="149.376" style="fill: #1f77b4; stroke: #1f77b4"/>
     <use href="#mf14c53ed57" x="391.272" y="125.328" style="fill: #1f77b4; stroke: #1f77b4"/>
     <use href="#mf14c53ed57" x="395.136" y="164.232" style="fill: #1f77b4; stroke: #1f77b4"/>
     <use href="#mf14c53ed57" x="426.048" y="135.192" style="fill: #1f77b4; stroke: #1f77b4"/>
     <use href="#mf14c53ed57" x="427.296" y="143.568" style="fill: #1f77b4; stroke: #1f77b4"/>
    </g>
   </g>
   <g id="matplotlib.axis_3">
    <g id="xtick_10">
     <g id="line2d_16">
      <g>
       <use href="#m1504cfccaf" x="59.568" y="201.192" style="stroke: #000000; stroke-width: 0.8"/>
      </g>
     </g>
    </g>
    <g id="xtick_11">
     <g id="line2d_17">
      <g>
       <use href="#m1504cfccaf" x="106.032" y="201.192" style="stroke: #000000; stroke-width: 0.8"/>
      </g>
     </g>
    </g>
    <g id="xtick_12">
     <g id="line2d_18">
      <g>
       <use href="#m1504cfccaf" x="152.496" y="201.192" style="stroke: #000000; stroke-width: 0.8"/>
      </g>
     </g>
    </g>
    <g id="xtick_13">
     <g id="line2d_19">
      <g>
       <use href="#m1504cfccaf" x="198.96" y="201.192" style="stroke: #000000; stroke-width: 0.8"/>
      </g>
     </g>
    </g>
    <g id="xtick_14">
     <g id="line2d_20">
      <g>
       <use href="#m1504cfccaf" x="245.424" y="201.192" style="stroke: #000000; stroke-width: 0.8"/>
      </g>
     </g>
    </g>
    <g id="xtick_15">
     <g id="line2d_21">
      <g>
       <use href="#m1504cfccaf" x="291.888" y="201.192" style="stroke: #000000; stroke-width: 0.8"/>
      </g>
     </g>
    </g>
    <g id="xtick_16">
     <g id="line2d_22">
      <g>
       <use href="#m1504cfccaf" x="338.352" y="201.192" style="stroke: #000000; stroke-width: 0.8"/>
      </g>
     </g>
    </g>
    <g id="xtick_17">
     <g id="line2d_23">
      <g>
       <use href="#m1504cfccaf" x="384.816" y="201.192" style="stroke: #000000; stroke-width: 0.8"/>
      </g>
     </g>
    </g>
    <g id="xtick_18">
     <g id="line2d_24">
      <g>
       <use href="#m1504cfccaf" x="431.28" y="201.192" style="stroke: #000000; stroke-width: 0.8"/>
      </g>
     </g>
    </g>
   </g>
   <g id="matplotlib.axis_4">
    <g id="ytick_5">
     <g id="line2d_25">
      <g>
       <use href="#m5d545ce8f8" x="52.992" y="199.056" style="stroke: #000000; stroke-width: 0.8"/>
      </g>
     </g>
     <g id="text_9">
      <text style="font-size: 10px; font-family: 'DejaVu Sans', 'Liberation Sans', sans-serif; text-anchor: end" x="46.1360" y="202.6152" transform="rotate(-0 46.1360 202.6152)">−60.0</text>
     </g>
    </g>
    <g id="ytick_6">
     <g id="line2d_26">
      <g>
       <use href="#m5d545ce8f8" x="52.992" y="173.28" style="stroke: #000000; stroke-width: 0.8"/>
      </g>
     </g>
     <g id="text_10">
      <text style="font-size: 10px; font-family: 'DejaVu Sans', 'Liberation Sans', sans-serif; text-anchor: end" x="46.1360" y="176.8392" transform="rotate(-0 46.1360 176.8392)">−57.5</text>
     </g>
    </g>
    <g id="ytick_7">
     <g id="line2d_27">
      <g>
       <use href="#m5d545ce8f8" x="52.992" y="147.504" style="stroke: #000000; stroke-width: 0.8"/>
      </g>
     </g>
     <g id="text_11">
      <text style="font-size: 10px; font-family: 'DejaVu Sans', 'Liberation Sans', sans-serif; text-anchor: end" x="46.1360" y="151.0632" transform="rotate(-0 46.1360 151.0632)">−55.0</text>
     </g>
    </g>
    <g id="ytick_8">
     <g id="line2d_28">
      <g>
       <use href="#m5d545ce8f8" x="52.992" y="121.728" style="stroke: #000000; stroke-width: 0.8"/>
      </g>
     </g>
     <g id="text_12">
      <text style="font-size: 10px; font-family: 'DejaVu Sans', 'Liberation Sans', sans-serif; text-anchor: end" x="46.1360" y="125.2872" transform="rotate(-0 46.1360 125.2872)">−52.5</text>
     </g>
    </g>
    <g id="text_13">
     <text style="font-size: 10px; font-family: 'DejaVu Sans', 'Liberation Sans', sans-serif; text-anchor: middle" x="9.0270" y="158.8800" transform="rotate(-90 9.0270 158.8800)">Dec. (deg)</text>
    </g>
   </g>
   <g id="line2d_29">
    <path d="M 73.584 164.29504 
L 427.296 143.103014 
" clip-path="url(#p314854c479)" style="fill: none; stroke: #1f77b4; stroke-width: 1.5; stroke-linecap: square"/>
   </g>
   <g id="patch_9">
    <path d="M 52.992 201.192 
L 52.992 116.28 
" style="fill: none; stroke: #000000; stroke-width: 0.8; stroke-linejoin: miter; stroke-linecap: square"/>
   </g>
   <g id="patch_10">
    <path d="M 447.72 201.192 
L 447.72 116.28 
" style="fill: none; stroke: #000000; stroke-width: 0.8; stroke-linejoin: miter; stroke-linecap: square"/>
   </g>
   <g id="patch_11">
    <path d="M 52.992 201.192 
L 447.72 201.192 
" style="fill: none; stroke: #000000; stroke-width: 0.8; stroke-linejoin: miter; stroke-linecap: square"/>
   </g>
   <g id="patch_12">
    <path d="M 52.992 116.28 
L 447.72 116.28 
" style="fill: none; stroke: #000000; stroke-width: 0.8; stroke-linejoin: miter; stroke-linecap: square"/>
   </g>
   <g id="legend_2">
    <g id="patch_13">
     <path d="M 59.992 167.914375 
L 222.04825 167.914375 
Q 224.04825 167.914375 224.04825 165.914375 
L 224.04825 123.28 
Q 224.04825 121.28 222.04825 121.28 
L 59.992 121.28 
Q 57.992 121.28 57.992 123.28 
L 57.992 165.914375 
Q 57.992 167.914375 59.992 167.914375 
z
" style="fill: #ffffff; fill-opacity: 0.8; stroke: #cccccc; stroke-opacity: 0.8; stroke-linejoin: miter"/>
    </g>
    <g id="line2d_30">
     <path d="M 61.792 129.178437 
L 71.792 129.178437 
L 81.792 129.178437 
" style="fill: none; stroke: #1f77b4; stroke-width: 1.5; stroke-linecap: square"/>
    </g>
    <g id="text_14">
     <text style="font-size: 10px; font-family: 'DejaVu Sans', 'Liberation Sans', sans-serif; text-anchor: start" x="89.9600" y="132.6784" transform="rotate(-0 89.9600 132.6784)">0.27 x (sol - 201.0) -55.36</text>
    </g>
    <g id="PathCollection_7">
     <g>
      <use href="#m75fa3bee47" x="71.792" y="144.731562" style="fill: #808080; stroke: #808080"/>
     </g>
    </g>
    <g id="text_15">
     <text style="font-size: 10px; font-family: 'DejaVu Sans', 'Liberation Sans', sans-serif; text-anchor: start" x="89.9600" y="147.3566" transform="rotate(-0 89.9600 147.3566)">All meteors</text>
    </g>
    <g id="PathCollection_8">
     <g>
      <use href="#mf14c53ed57" x="71.792" y="159.409687" style="fill: #1f77b4; stroke: #1f77b4"/>
     </g>
    </g>
    <g id="text_16">
     <text style="font-size: 10px; font-family: 'DejaVu Sans', 'Liberation Sans', sans-serif; text-anchor: start" x="89.9600" y="162.0347" transform="rotate(-0 89.9600 162.0347)">DECgeo (deg)</text>
    </g>
   </g>
  </g>
  <g id="axes_3">
   <g id="patch_14">
    <path d="M 52.992 303.672 
L 447.72 303.672 
L 447.72 218.736 
L 52.992 218.736 
z
" style="fill: #ffffff"/>
   </g>
   <g id="PathCollection_9">
    <g clip-path="url(#pbd1a612d1a)">
     <use href="#m75fa3bee47" x="113.712" y="226.56" style="fill: #808080; stroke: #808080"/>
     <use href="#m75fa3bee47" x="121.536" y="271.776" style="fill: #808080; stroke: #808080"/>
     <use href="#m75fa3bee47" x="165.096" y="222.744" style="fill: #808080; stroke: #808080"/>
     <use href="#m75fa3bee47" x="198.864" y="244.512" style="fill: #808080; stroke: #808080"/>
     <use href="#m75fa3bee47" x="217.872" y="240.456" style="fill: #808080; stroke: #808080"/>
     <use href="#m75fa3bee47" x="162.504" y="269.928" style="fill: #808080; stroke: #808080"/>
     <use href="#m75fa3bee47" x="160.656" y="271.776" style="fill: #808080; stroke: #808080"/>
     <use href="#m75fa3bee47" x="205.344" y="271.464" style="fill: #808080; stroke: #808080"/>
     <use href="#m75fa3bee47" x="213.552" y="267.576" style="fill: #808080; stroke: #808080"/>
     <use href="#m75fa3bee47" x="249.072" y="242.592" style="fill: #808080; stroke: #808080"/>
     <use href="#m75fa3bee47" x="270.456" y="234.456" style="fill: #808080; stroke: #808080"/>
     <use href="#m75fa3bee47" x="254.808" y="268.992" style="fill: #808080; stroke: #808080"/>
     <use href="#m75fa3bee47" x="251.04" y="270.216" style="fill: #808080; stroke: #808080"/>
     <use href="#m75fa3bee47" x="253.08" y="267.144" style="fill: #808080; stroke: #808080"/>
     <use href="#m75fa3bee47" x="254.136" y="281.52" style="fill: #808080; stroke: #808080"/>
     <use href="#m75fa3bee47" x="287.928" y="241.44" style="fill: #808080; stroke: #808080"/>
     <use href="#m75fa3bee47" x="293.28" y="236.448" style="fill: #808080; stroke: #808080"/>
     <use href="#m75fa3bee47" x="298.272" y="229.344" style="fill: #808080; stroke: #808080"/>
     <use href="#m75fa3bee47" x="299.328" y="231.576" style="fill: #808080; stroke: #808080"/>
     <use href="#m75fa3bee47" x="299.016" y="240.192" style="fill: #808080; stroke: #808080"/>
     <use href="#m75fa3bee47" x="299.52" y="242.784" style="fill: #808080; stroke: #808080"/>
     <use href="#m75fa3bee47" x="296.856" y="267.336" style="fill: #808080; stroke: #808080"/>
     <use href="#m75fa3bee47" x="303.816" y="274.728" style="fill: #808080; stroke: #808080"/>
     <use href="#m75fa3bee47" x="334.296" y="227.808" style="fill: #808080; stroke: #808080"/>
     <use href="#m75fa3bee47" x="354.888" y="241.128" style="fill: #808080; stroke: #808080"/>
     <use href="#m75fa3bee47" x="340.776" y="268.68" style="fill: #808080; stroke: #808080"/>
     <use href="#m75fa3bee47" x="382.272" y="230.76" style="fill: #808080; stroke: #808080"/>
     <use href="#m75fa3bee47" x="382.272" y="233.544" style="fill: #808080; stroke: #808080"/>
     <use href="#m75fa3bee47" x="381.264" y="268.248" style="fill: #808080; stroke: #808080"/>
     <use href="#m75fa3bee47" x="380.544" y="299.688" style="fill: #808080; stroke: #808080"/>
    </g>
   </g>
   <g id="PathCollection_10">
    <g clip-path="url(#pbd1a612d1a)">
     <use href="#mf14c53ed57" x="73.584" y="250.176" style="fill: #1f77b4; stroke: #1f77b4"/>
     <use href="#mf14c53ed57" x="105.696" y="256.224" style="fill: #1f77b4; stroke: #1f77b4"/>
     <use href="#mf14c53ed57" x="115.248" y="263.136" style="fill: #1f77b4; stroke: #1f77b4"/>
     <use href="#mf14c53ed57" x="111.984" y="265.488" style="fill: #1f77b4; stroke: #1f77b4"/>
     <use href="#mf14c53ed57" x="115.992" y="269.304" style="fill: #1f77b4; stroke: #1f77b4"/>
     <use href="#mf14c53ed57" x="115.992" y="264.984" style="fill: #1f77b4; stroke: #1f77b4"/>
     <use href="#mf14c53ed57" x="136.344" y="260.352" style="fill: #1f77b4; stroke: #1f77b4"/>
     <use href="#mf14c53ed57" x="148.944" y="254.376" style="fill: #1f77b4; stroke: #1f77b4"/>
     <use href="#mf14c53ed57" x="162.816" y="246.48" style="fill: #1f77b4; stroke: #1f77b4"/>
     <use href="#mf14c53ed57" x="159.72" y="252.336" style="fill: #1f77b4; stroke: #1f77b4"/>
     <use href="#mf14c53ed57" x="163.104" y="253.272" style="fill: #1f77b4; stroke: #1f77b4"/>
     <use href="#mf14c53ed57" x="167.112" y="257.904" style="fill: #1f77b4; stroke: #1f77b4"/>
     <use href="#mf14c53ed57" x="169.896" y="258.192" style="fill: #1f77b4; stroke: #1f77b4"/>
     <use href="#mf14c53ed57" x="159.408" y="260.352" style="fill: #1f77b4; stroke: #1f77b4"/>
     <use href="#mf14c53ed57" x="155.4" y="263.76" style="fill: #1f77b4; stroke: #1f77b4"/>
     <use href="#mf14c53ed57" x="183.96" y="267.144" style="fill: #1f77b4; stroke: #1f77b4"/>
     <use href="#mf14c53ed57" x="206.712" y="245.808" style="fill: #1f77b4; stroke: #1f77b4"/>
     <use href="#mf14c53ed57" x="210.984" y="245.808" style="fill: #1f77b4; stroke: #1f77b4"/>
     <use href="#mf14c53ed57" x="204.216" y="249.264" style="fill: #1f77b4; stroke: #1f77b4"/>
     <use href="#mf14c53ed57" x="208.128" y="249.024" style="fill: #1f77b4; stroke: #1f77b4"/>
     <use href="#mf14c53ed57" x="217.632" y="251.88" style="fill: #1f77b4; stroke: #1f77b4"/>
     <use href="#mf14c53ed57" x="229.728" y="250.224" style="fill: #1f77b4; stroke: #1f77b4"/>
     <use href="#mf14c53ed57" x="230.688" y="257.928" style="fill: #1f77b4; stroke: #1f77b4"/>
     <use href="#mf14c53ed57" x="227.592" y="261.144" style="fill: #1f77b4; stroke: #1f77b4"/>
     <use href="#mf14c53ed57" x="226.896" y="256.152" style="fill: #1f77b4; stroke: #1f77b4"/>
     <use href="#mf14c53ed57" x="196.248" y="257.688" style="fill: #1f77b4; stroke: #1f77b4"/>
     <use href="#mf14c53ed57" x="200.76" y="265.296" style="fill: #1f77b4; stroke: #1f77b4"/>
     <use href="#mf14c53ed57" x="206.928" y="267.552" style="fill: #1f77b4; stroke: #1f77b4"/>
     <use href="#mf14c53ed57" x="213.816" y="262.44" style="fill: #1f77b4; stroke: #1f77b4"/>
     <use href="#mf14c53ed57" x="198.84" y="255.84" style="fill: #1f77b4; stroke: #1f77b4"/>
     <use href="#mf14c53ed57" x="204" y="256.8" style="fill: #1f77b4; stroke: #1f77b4"/>
     <use href="#mf14c53ed57" x="215.04" y="254.88" style="fill: #1f77b4; stroke: #1f77b4"/>
     <use href="#mf14c53ed57" x="207.84" y="256.32" style="fill: #1f77b4; stroke: #1f77b4"/>
     <use href="#mf14c53ed57" x="205.44" y="263.28" style="fill: #1f77b4; stroke: #1f77b4"/>
     <use href="#mf14c53ed57" x="246.288" y="249.576" style="fill: #1f77b4; stroke: #1f77b4"/>
     <use href="#mf14c53ed57" x="251.856" y="246.168" style="fill: #1f77b4; stroke: #1f77b4"/>
     <use href="#mf14c53ed57" x="254.928" y="246.048" style="fill: #1f77b4; stroke: #1f77b4"/>
     <use href="#mf14c53ed57" x="256.776" y="247.728" style="fill: #1f77b4; stroke: #1f77b4"/>
     <use href="#mf14c53ed57" x="264.168" y="250.68" style="fill: #1f77b4; stroke: #1f77b4"/>
     <use href="#mf14c53ed57" x="243.096" y="256.344" style="fill: #1f77b4; stroke: #1f77b4"/>
     <use href="#mf14c53ed57" x="247.536" y="259.128" style="fill: #1f77b4; stroke: #1f77b4"/>
     <use href="#mf14c53ed57" x="255.552" y="260.352" style="fill: #1f77b4; stroke: #1f77b4"/>
     <use href="#mf14c53ed57" x="261.096" y="255.744" style="fill: #1f77b4; stroke: #1f77b4"/>
     <use href="#mf14c53ed57" x="252.456" y="264.048" style="fill: #1f77b4; stroke: #1f77b4"/>
     <use href="#mf14c53ed57" x="249.504" y="266.52" style="fill: #1f77b4; stroke: #1f77b4"/>
     <use href="#mf14c53ed57" x="250.608" y="254.184" style="fill: #1f77b4; stroke: #1f77b4"/>
     <use href="#mf14c53ed57" x="255.552" y="252.96" style="fill: #1f77b4; stroke: #1f77b4"/>
     <use href="#mf14c53ed57" x="258.624" y="256.656" style="fill: #1f77b4; stroke: #1f77b4"/>
     <use href="#mf14c53ed57" x="253.704" y="257.28" style="fill: #1f77b4; stroke: #1f77b4"/>
     <use href="#mf14c53ed57" x="248.76" y="251.736" style="fill: #1f77b4; stroke: #1f77b4"/>
     <use href="#mf14c53ed57" x="252.552" y="250.152" style="fill: #1f77b4; stroke: #1f77b4"/>
     <use href="#mf14c53ed57" x="259.224" y="252.024" style="fill: #1f77b4; stroke: #1f77b4"/>
     <use href="#mf14c53ed57" x="251.304" y="259.944" style="fill: #1f77b4; stroke: #1f77b4"/>
     <use href="#mf14c53ed57" x="277.44" y="246.792" style="fill: #1f77b4; stroke: #1f77b4"/>
     <use href="#mf14c53ed57" x="275.904" y="255.432" style="fill: #1f77b4; stroke: #1f77b4"/>
     <use href="#mf14c53ed57" x="273.744" y="260.544" style="fill: #1f77b4; stroke: #1f77b4"/>
     <use href="#mf14c53ed57" x="293.4" y="249.96" style="fill: #1f77b4; stroke: #1f77b4"/>
     <use href="#mf14c53ed57" x="292.104" y="251.616" style="fill: #1f77b4; stroke: #1f77b4"/>
     <use href="#mf14c53ed57" x="296.256" y="253.704" style="fill: #1f77b4; stroke: #1f77b4"/>
     <use href="#mf14c53ed57" x="298.344" y="251.616" style="fill: #1f77b4; stroke: #1f77b4"/>
     <use href="#mf14c53ed57" x="294.72" y="257.28" style="fill: #1f77b4; stroke: #1f77b4"/>
     <use href="#mf14c53ed57" x="298.704" y="248.04" style="fill: #1f77b4; stroke: #1f77b4"/>
     <use href="#mf14c53ed57" x="301.8" y="253.272" style="fill: #1f77b4; stroke: #1f77b4"/>
     <use href="#mf14c53ed57" x="287.616" y="254.496" style="fill: #1f77b4; stroke: #1f77b4"/>
     <use href="#mf14c53ed57" x="285.144" y="260.184" style="fill: #1f77b4; stroke: #1f77b4"/>
     <use href="#mf14c53ed57" x="290.688" y="255.744" style="fill: #1f77b4; stroke: #1f77b4"/>
     <use href="#mf14c53ed57" x="290.376" y="257.28" style="fill: #1f77b4; stroke: #1f77b4"/>
     <use href="#mf14c53ed57" x="296.856" y="261.288" style="fill: #1f77b4; stroke: #1f77b4"/>
     <use href="#mf14c53ed57" x="299.928" y="257.904" style="fill: #1f77b4; stroke: #1f77b4"/>
     <use href="#mf14c53ed57" x="300.552" y="260.352" style="fill: #1f77b4; stroke: #1f77b4"/>
     <use href="#mf14c53ed57" x="301.968" y="264.672" style="fill: #1f77b4; stroke: #1f77b4"/>
     <use href="#mf14c53ed57" x="295.632" y="254.184" style="fill: #1f77b4; stroke: #1f77b4"/>
     <use href="#mf14c53ed57" x="309.504" y="262.824" style="fill: #1f77b4; stroke: #1f77b4"/>
     <use href="#mf14c53ed57" x="319.056" y="261.912" style="fill: #1f77b4; stroke: #1f77b4"/>
     <use href="#mf14c53ed57" x="335.64" y="247.728" style="fill: #1f77b4; stroke: #1f77b4"/>
     <use href="#mf14c53ed57" x="334.104" y="249.576" style="fill: #1f77b4; stroke: #1f77b4"/>
     <use href="#mf14c53ed57" x="342.312" y="247.416" style="fill: #1f77b4; stroke: #1f77b4"/>
     <use href="#mf14c53ed57" x="348.288" y="247.104" style="fill: #1f77b4; stroke: #1f77b4"/>
     <use href="#mf14c53ed57" x="348.912" y="251.424" style="fill: #1f77b4; stroke: #1f77b4"/>
     <use href="#mf14c53ed57" x="334.104" y="255.432" style="fill: #1f77b4; stroke: #1f77b4"/>
     <use href="#mf14c53ed57" x="336.888" y="256.968" style="fill: #1f77b4; stroke: #1f77b4"/>
     <use href="#mf14c53ed57" x="341.208" y="256.656" style="fill: #1f77b4; stroke: #1f77b4"/>
     <use href="#mf14c53ed57" x="344.904" y="254.184" style="fill: #1f77b4; stroke: #1f77b4"/>
     <use href="#mf14c53ed57" x="342.144" y="248.496" style="fill: #1f77b4; stroke: #1f77b4"/>
     <use href="#mf14c53ed57" x="346.512" y="255.792" style="fill: #1f77b4; stroke: #1f77b4"/>
     <use href="#mf14c53ed57" x="345.6" y="252" style="fill: #1f77b4; stroke: #1f77b4"/>
     <use href="#mf14c53ed57" x="347.76" y="257.28" style="fill: #1f77b4; stroke: #1f77b4"/>
     <use href="#mf14c53ed57" x="345.504" y="257.904" style="fill: #1f77b4; stroke: #1f77b4"/>
     <use href="#mf14c53ed57" x="352.92" y="255.912" style="fill: #1f77b4; stroke: #1f77b4"/>
     <use href="#mf14c53ed57" x="349.824" y="262.824" style="fill: #1f77b4; stroke: #1f77b4"/>
     <use href="#mf14c53ed57" x="346.008" y="263.928" style="fill: #1f77b4; stroke: #1f77b4"/>
     <use href="#mf14c53ed57" x="379.728" y="251.304" style="fill: #1f77b4; stroke: #1f77b4"/>
     <use href="#mf14c53ed57" x="388.848" y="249.696" style="fill: #1f77b4; stroke: #1f77b4"/>
     <use href="#mf14c53ed57" x="392.064" y="249.144" style="fill: #1f77b4; stroke: #1f77b4"/>
     <use href="#mf14c53ed57" x="391.272" y="255.432" style="fill: #1f77b4; stroke: #1f77b4"/>
     <use href="#mf14c53ed57" x="395.136" y="261.48" style="fill: #1f77b4; stroke: #1f77b4"/>
     <use href="#mf14c53ed57" x="427.296" y="251.52" style="fill: #1f77b4; stroke: #1f77b4"/>
     <use href="#mf14c53ed57" x="426.048" y="256.824" style="fill: #1f77b4; stroke: #1f77b4"/>
    </g>
   </g>
   <g id="matplotlib.axis_5">
    <g id="xtick_19">
     <g id="line2d_31">
      <g>
       <use href="#m1504cfccaf" x="59.568" y="303.672" style="stroke: #000000; stroke-width: 0.8"/>
      </g>
     </g>
     <g id="text_17">
      <text style="font-size: 10px; font-family: 'DejaVu Sans', 'Liberation Sans', sans-serif; text-anchor: middle" x="59.5680" y="318.0544" transform="rotate(-0 59.5680 318.0544)">196</text>
     </g>
    </g>
    <g id="xtick_20">
     <g id="line2d_32">
      <g>
       <use href="#m1504cfccaf" x="106.032" y="303.672" style="stroke: #000000; stroke-width: 0.8"/>
      </g>
     </g>
     <g id="text_18">
      <text style="font-size: 10px; font-family: 'DejaVu Sans', 'Liberation Sans', sans-serif; text-anchor: middle" x="106.0320" y="318.0544" transform="rotate(-0 106.0320 318.0544)">197</text>
     </g>
    </g>
    <g id="xtick_21">
     <g id="line2d_33">
      <g>
       <use href="#m1504cfccaf" x="152.496" y="303.672" style="stroke: #000000; stroke-width: 0.8"/>
      </g>
     </g>
     <g id="text_19">
      <text style="font-size: 10px; font-family: 'DejaVu Sans', 'Liberation Sans', sans-serif; text-anchor: middle" x="152.4960" y="318.0544" transform="rotate(-0 152.4960 318.0544)">198</text>
     </g>
    </g>
    <g id="xtick_22">
     <g id="line2d_34">
      <g>
       <use href="#m1504cfccaf" x="198.96" y="303.672" style="stroke: #000000; stroke-width: 0.8"/>
      </g>
     </g>
     <g id="text_20">
      <text style="font-size: 10px; font-family: 'DejaVu Sans', 'Liberation Sans', sans-serif; text-anchor: middle" x="198.9600" y="318.0544" transform="rotate(-0 198.9600 318.0544)">199</text>
     </g>
    </g>
    <g id="xtick_23">
     <g id="line2d_35">
      <g>
       <use href="#m1504cfccaf" x="245.424" y="303.672" style="stroke: #000000; stroke-width: 0.8"/>
      </g>
     </g>
     <g id="text_21">
      <text style="font-size: 10px; font-family: 'DejaVu Sans', 'Liberation Sans', sans-serif; text-anchor: middle" x="245.4240" y="318.0544" transform="rotate(-0 245.4240 318.0544)">200</text>
     </g>
    </g>
    <g id="xtick_24">
     <g id="line2d_36">
      <g>
       <use href="#m1504cfccaf" x="291.888" y="303.672" style="stroke: #000000; stroke-width: 0.8"/>
      </g>
     </g>
     <g id="text_22">
      <text style="font-size: 10px; font-family: 'DejaVu Sans', 'Liberation Sans', sans-serif; text-anchor: middle" x="291.8880" y="318.0544" transform="rotate(-0 291.8880 318.0544)">201</text>
     </g>
    </g>
    <g id="xtick_25">
     <g id="line2d_37">
      <g>
       <use href="#m1504cfccaf" x="338.352" y="303.672" style="stroke: #000000; stroke-width: 0.8"/>
      </g>
     </g>
     <g id="text_23">
      <text style="font-size: 10px; font-family: 'DejaVu Sans', 'Liberation Sans', sans-serif; text-anchor: middle" x="338.3520" y="318.0544" transform="rotate(-0 338.3520 318.0544)">202</text>
     </g>
    </g>
    <g id="xtick_26">
     <g id="line2d_38">
      <g>
       <use href="#m1504cfccaf" x="384.816" y="303.672" style="stroke: #000000; stroke-width: 0.8"/>
      </g>
     </g>
     <g id="text_24">
      <text style="font-size: 10px; font-family: 'DejaVu Sans', 'Liberation Sans', sans-serif; text-anchor: middle" x="384.8160" y="318.0544" transform="rotate(-0 384.8160 318.0544)">203</text>
     </g>
    </g>
    <g id="xtick_27">
     <g id="line2d_39">
      <g>
       <use href="#m1504cfccaf" x="431.28" y="303.672" style="stroke: #000000; stroke-width: 0.8"/>
      </g>
     </g>
     <g id="text_25">
      <text style="font-size: 10px; font-family: 'DejaVu Sans', 'Liberation Sans', sans-serif; text-anchor: middle" x="431.2800" y="318.0544" transform="rotate(-0 431.2800 318.0544)">204</text>
     </g>
    </g>
    <g id="text_26">
     <text style="font-size: 10px; font-family: 'DejaVu Sans', 'Liberation Sans', sans-serif; text-anchor: middle" x="250.3560" y="331.7326" transform="rotate(-0 250.3560 331.7326)">Solar longitude (deg)</text>
    </g>
   </g>
   <g id="matplotlib.axis_6">
    <g id="ytick_9">
     <g id="line2d_40">
      <g>
       <use href="#m5d545ce8f8" x="52.992" y="290.52" style="stroke: #000000; stroke-width: 0.8"/>
      </g>
     </g>
     <g id="text_27">
      <text style="font-size: 10px; font-family: 'DejaVu Sans', 'Liberation Sans', sans-serif; text-anchor: end" x="46.1360" y="294.0792" transform="rotate(-0 46.1360 294.0792)">25</text>
     </g>
    </g>
    <g id="ytick_10">
     <g id="line2d_41">
      <g>
       <use href="#m5d545ce8f8" x="52.992" y="262.872" style="stroke: #000000; stroke-width: 0.8"/>
      </g>
     </g>
     <g id="text_28">
      <text style="font-size: 10px; font-family: 'DejaVu Sans', 'Liberation Sans', sans-serif; text-anchor: end" x="46.1360" y="266.4312" transform="rotate(-0 46.1360 266.4312)">30</text>
     </g>
    </g>
    <g id="ytick_11">
     <g id="line2d_42">
      <g>
       <use href="#m5d545ce8f8" x="52.992" y="235.224" style="stroke: #000000; stroke-width: 0.8"/>
      </g>
     </g>
     <g id="text_29">
      <text style="font-size: 10px; font-family: 'DejaVu Sans', 'Liberation Sans', sans-serif; text-anchor: end" x="46.1360" y="238.7832" transform="rotate(-0 46.1360 238.7832)">35</text>
     </g>
    </g>
    <g id="text_30">
     <text style="font-size: 10px; font-family: 'DejaVu Sans', 'Liberation Sans', sans-serif; text-anchor: middle" x="26.9473" y="261.3480" transform="rotate(-90 26.9473 261.3480)">Vg (km/s)</text>
    </g>
   </g>
   <g id="line2d_43">
    <path d="M 73.584 259.73498 
L 427.296 251.736996 
" clip-path="url(#pbd1a612d1a)" style="fill: none; stroke: #1f77b4; stroke-width: 1.5; stroke-linecap: square"/>
   </g>
   <g id="patch_15">
    <path d="M 52.992 303.672 
L 52.992 218.736 
" style="fill: none; stroke: #000000; stroke-width: 0.8; stroke-linejoin: miter; stroke-linecap: square"/>
   </g>
   <g id="patch_16">
    <path d="M 447.72 303.672 
L 447.72 218.736 
" style="fill: none; stroke: #000000; stroke-width: 0.8; stroke-linejoin: miter; stroke-linecap: square"/>
   </g>
   <g id="patch_17">
    <path d="M 52.992 303.672 
L 447.72 303.672 
" style="fill: none; stroke: #000000; stroke-width: 0.8; stroke-linejoin: miter; stroke-linecap: square"/>
   </g>
   <g id="patch_18">
    <path d="M 52.992 218.736 
L 447.72 218.736 
" style="fill: none; stroke: #000000; stroke-width: 0.8; stroke-linejoin: miter; stroke-linecap: square"/>
   </g>
   <g id="legend_3">
    <g id="patch_19">
     <path d="M 59.992 298.672 
L 226.820125 298.672 
Q 228.820125 298.672 228.820125 296.672 
L 228.820125 254.037625 
Q 228.820125 252.037625 226.820125 252.037625 
L 59.992 252.037625 
Q 57.992 252.037625 57.992 254.037625 
L 57.992 296.672 
Q 57.992 298.672 59.992 298.672 
z
" style="fill: #ffffff; fill-opacity: 0.8; stroke: #cccccc; stroke-opacity: 0.8; stroke-linejoin: miter"/>
    </g>
    <g id="line2d_44">
     <path d="M 61.792 259.936062 
L 71.792 259.936062 
L 81.792 259.936062 
" style="fill: none; stroke: #1f77b4; stroke-width: 1.5; stroke-linecap: square"/>
    </g>
    <g id="text_31">
     <text style="font-size: 10px; font-family: 'DejaVu Sans', 'Liberation Sans', sans-serif; text-anchor: start" x="89.9600" y="263.4361" transform="rotate(-0 89.9600 263.4361)">0.19 x (sol - 201.0) +31.46</text>
    </g>
    <g id="PathCollection_11">
     <g>
      <use href="#m75fa3bee47" x="71.792" y="275.489187" style="fill: #808080; stroke: #808080"/>
     </g>
    </g>
    <g id="text_32">
     <text style="font-size: 10px; font-family: 'DejaVu Sans', 'Liberation Sans', sans-serif; text-anchor: start" x="89.9600" y="278.1142" transform="rotate(-0 89.9600 278.1142)">All meteors</text>
    </g>
    <g id="PathCollection_12">
     <g>
      <use href="#mf14c53ed57" x="71.792" y="290.167312" style="fill: #1f77b4; stroke: #1f77b4"/>
     </g>
    </g>
    <g id="text_33">
     <text style="font-size: 10px; font-family: 'DejaVu Sans', 'Liberation Sans', sans-serif; text-anchor: start" x="89.9600" y="292.7923" transform="rotate(-0 89.9600 292.7923)">Vgeo (km/s)</text>
    </g>
   </g>
  </g>
 </g>
 <defs>
  <clipPath id="pdd602e3e44">
   <rect x="52.992" y="13.776" width="394.728" height="84.96"/>
  </clipPath>
  <clipPath id="p314854c479">
   <rect x="52.992" y="116.28" width="394.728" height="84.912"/>
  </clipPath>
  <clipPath id="pbd1a612d1a">
   <rect x="52.992" y="218.736" width="394.728" height="84.936"/>
  </clipPath>
 </defs>
</svg>

</body></html>
